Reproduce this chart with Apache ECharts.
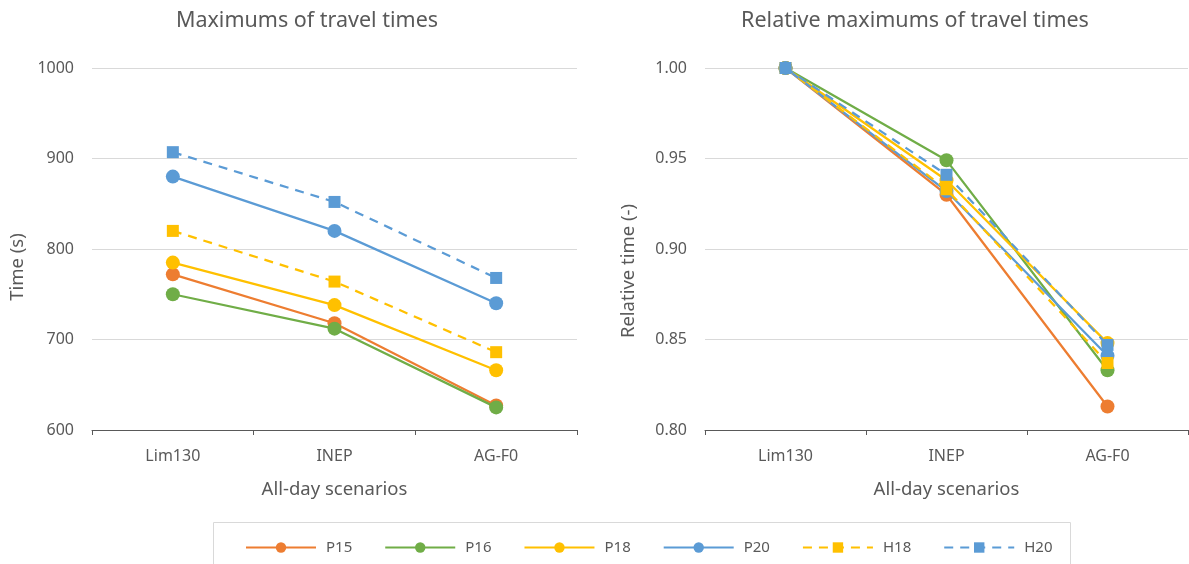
<!DOCTYPE html>
<html>
<head>
<meta charset="utf-8">
<script src="https://cdn.jsdelivr.net/npm/echarts@6/dist/echarts.min.js"></script>
<style>html,body{margin:0;padding:0;background:#fff}#c{width:1189px;height:564px}</style>
</head>
<body>
<div id="c"></div>
<script>
const categories = ['Lim130', 'INEP', 'AG-F0'];
const seriesNames = ['P15', 'P16', 'P18', 'P20', 'H18', 'H20'];
// Maximums of travel times (s)
const absP15 = [772, 718, 627];
const absP16 = [750, 712, 625];
const absP18 = [785, 738, 666];
const absP20 = [880, 820, 740];
const absH18 = [820, 764, 686];
const absH20 = [907, 852, 768];
// Relative maximums of travel times (-)
const relP15 = [1.000, 0.930, 0.813];
const relP16 = [1.000, 0.949, 0.833];
const relP18 = [1.000, 0.938, 0.848];
const relP20 = [1.000, 0.932, 0.841];
const relH18 = [1.000, 0.933, 0.837];
const relH20 = [1.000, 0.941, 0.847];
const leftTicks = [600, 700, 800, 900, 1000];
const rightTicks = ['0.80', '0.85', '0.90', '0.95', '1.00'];

const absData = [absP15, absP16, absP18, absP20, absH18, absH20];
const relData = [relP15, relP16, relP18, relP20, relH18, relH20];
const colors = ['#ED7D31', '#70AD47', '#FFC000', '#5B9BD5', '#FFC000', '#5B9BD5'];
const FONT = 'Noto Sans';
const TXT = '#595959';

function xAxis(gi) {
  return {
    type: 'category', gridIndex: gi, data: categories, boundaryGap: true,
    axisLine: { lineStyle: { color: '#595959', width: 1 } },
    axisTick: { show: true, length: 5, lineStyle: { color: '#595959' } },
    axisLabel: { color: TXT, fontSize: 16, fontFamily: FONT, margin: 18 },
    name: 'All-day scenarios', nameLocation: 'middle', nameGap: 50,
    nameTextStyle: { color: TXT, fontSize: 18.5, fontFamily: FONT }
  };
}
function yAxis(gi, min, max, interval, fmt) {
  return {
    type: 'value', gridIndex: gi, min: min, max: max, interval: interval,
    axisLine: { show: false }, axisTick: { show: false },
    splitLine: { lineStyle: { color: '#D9D9D9', width: 1 } },
    axisLabel: { color: TXT, fontSize: 16, fontFamily: FONT, margin: 18, formatter: fmt }
  };
}
const series = [];
seriesNames.forEach((n, i) => {
  const dashed = n.startsWith('H');
  [absData[i], relData[i]].forEach((d, gi) => {
    series.push({
      name: n, type: 'line', xAxisIndex: gi, yAxisIndex: gi, data: d,
      symbol: dashed ? 'rect' : 'circle', symbolSize: dashed ? 12 : 14,
      itemStyle: { color: colors[i] },
      lineStyle: { color: colors[i], width: 2.25, type: dashed ? [9, 7] : 'solid' },
      z: 2 + i, animation: false
    });
  });
});

const chart = echarts.init(document.getElementById('c'), null, { renderer: 'canvas' });
chart.setOption({
  animation: false,
  textStyle: { fontFamily: FONT },
  title: [
    { text: 'Maximums of travel times', left: 302, top: 5, textAlign: 'center',
      textStyle: { color: TXT, fontSize: 21.5, fontWeight: 'normal', fontFamily: FONT } },
    { text: 'Relative maximums of travel times', left: 910, top: 5, textAlign: 'center',
      textStyle: { color: TXT, fontSize: 21.5, fontWeight: 'normal', fontFamily: FONT } }
  ],
  grid: [
    { left: 92, right: 612, top: 68, bottom: 134 },
    { left: 705, right: 1, top: 68, bottom: 134 }
  ],
  xAxis: [xAxis(0), xAxis(1)],
  yAxis: [
    yAxis(0, leftTicks[0], leftTicks[leftTicks.length - 1], 100, v => String(v)),
    yAxis(1, Number(rightTicks[0]), Number(rightTicks[rightTicks.length - 1]), 0.05, v => v.toFixed(2))
  ],
  legend: {
    data: seriesNames, left: 240, top: 535, itemWidth: 70, itemHeight: 13, itemGap: 32,
    textStyle: { color: TXT, fontSize: 15, fontFamily: FONT, padding: [0, 0, 0, 5] }
  },
  graphic: [
    { type: 'rect', shape: { x: 213.5, y: 522.5, width: 857, height: 60 },
      style: { fill: 'none', stroke: '#D9D9D9', lineWidth: 1 }, silent: true },
    { type: 'text', x: 18, y: 267, rotation: Math.PI / 2,
      style: { text: 'Time (s)', fill: TXT, font: '18.5px "Noto Sans"', align: 'center', verticalAlign: 'middle' } },
    { type: 'text', x: 629, y: 271, rotation: Math.PI / 2,
      style: { text: 'Relative time (-)', fill: TXT, font: '18.5px "Noto Sans"', align: 'center', verticalAlign: 'middle' } }
  ],
  series: series
});
</script>
</body>
</html>
